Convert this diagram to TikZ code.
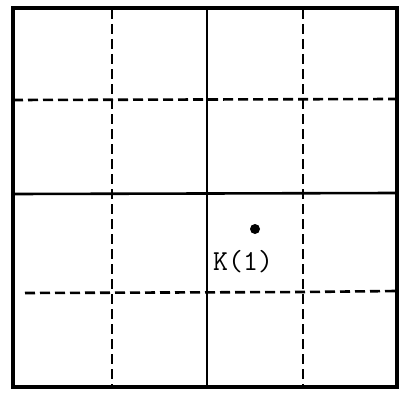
\documentclass[tikz,border=0pt]{standalone}
\begin{document}
\begin{tikzpicture}[x=1pt,y=-1pt,
  frame/.style={line width=4pt},
  solidline/.style={line width=2.6pt},
  dashline/.style={line width=2.6pt,dash pattern=on 10pt off 5pt},
  label/.style={font=\ttfamily\fontsize{29}{29}\selectfont,inner sep=0pt,anchor=base west}]
\useasboundingbox (0,0) rectangle (409,396);
\fill[white] (0,0) rectangle (409,396);
% inner grid
\draw[dashline] (112,9) -- (112,385);
\draw[dashline] (303,9) -- (303,385);
\draw[dashline] (13,100) -- (396,99);
\draw[dashline] (25,293) -- (303,292) -- (396,291);
\draw[solidline] (207,9) -- (207,385);
\draw[solidline] (13,194) -- (396,193);
% frame
\draw[frame] (13,8) rectangle (397,387);
% label
\node[label] (k) at (213,270) {K(1)};
\node[circle,fill=black,inner sep=0pt,minimum size=10pt] (dot) at (255,229) {};
\end{tikzpicture}
\end{document}
